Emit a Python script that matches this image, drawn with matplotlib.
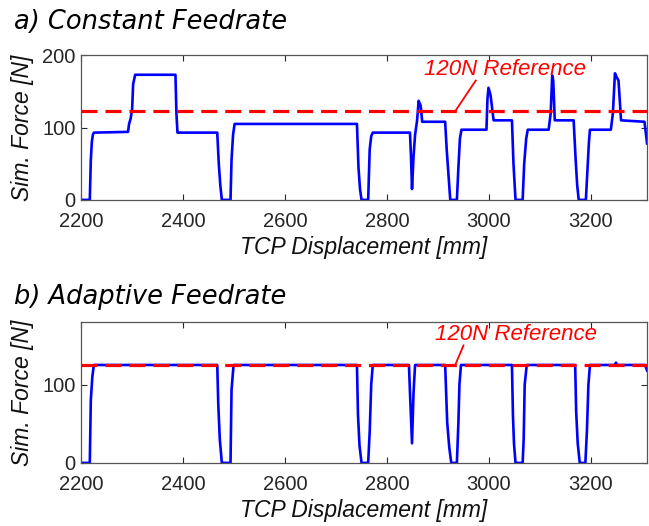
import matplotlib.pyplot as plt

# Constant feedrate trace (vertices of the force curve)
const_x = [2200, 2217, 2219, 2221, 2223, 2225, 2292, 2294, 2297, 2300, 2302, 2306, 2385, 2387, 2389,
           2467, 2470, 2473, 2476, 2493, 2495, 2498, 2501, 2741, 2744, 2747, 2750, 2763, 2766,
           2769, 2772, 2845, 2847, 2849, 2852, 2855, 2859, 2862, 2866, 2869, 2914, 2917, 2921,
           2924, 2937, 2940, 2943, 2946, 2995, 2997, 2999, 3003, 3009, 3045, 3048, 3052, 3066,
           3069, 3073, 3076, 3117, 3121, 3124, 3126, 3129, 3166, 3170, 3173, 3176, 3190, 3193,
           3196, 3198, 3239, 3243, 3247, 3250, 3254, 3259, 3305, 3310]
const_y = [0, 0, 55, 80, 90, 93, 94, 105, 112, 125, 160, 173, 173, 118, 93,
           93, 50, 20, 0, 0, 55, 90, 105, 105, 45, 15, 0, 0, 70,
           88, 93, 93, 60, 15, 60, 90, 110, 137, 130, 108, 108, 70, 30,
           0, 0, 45, 85, 97, 97, 140, 155, 145, 110, 110, 50, 0, 0,
           50, 85, 97, 97, 120, 172, 165, 110, 110, 55, 20, 0, 0, 40,
           80, 97, 97, 120, 175, 170, 165, 110, 108, 78]

# Adaptive feedrate trace
adapt_x = [2200, 2217, 2219, 2222, 2225, 2467, 2469, 2472, 2476, 2493, 2495, 2499, 2741, 2743,
           2746, 2750, 2763, 2766, 2769, 2772, 2843, 2845, 2849, 2852, 2855, 2914, 2918, 2922,
           2926, 2937, 2940, 2942, 2945, 3045, 3047, 3049, 3052, 3066, 3068, 3070, 3074, 3169,
           3171, 3174, 3178, 3189, 3192, 3195, 3198, 3247, 3249, 3251, 3306, 3310]
adapt_y = [0, 0, 80, 110, 125, 125, 75, 30, 0, 0, 93, 125, 125, 62,
           22, 0, 0, 40, 100, 125, 125, 90, 25, 90, 125, 125, 52, 20,
           0, 0, 52, 100, 125, 125, 60, 25, 0, 0, 30, 100, 125, 125,
           65, 25, 0, 0, 40, 100, 125, 125, 128, 125, 125, 118]

ref_const = 123
ref_adapt = 125.5

fig = plt.figure(figsize=(6.49, 5.26), dpi=100)
ax1 = fig.add_axes([0.125, 0.620, 0.872, 0.275])
ax2 = fig.add_axes([0.125, 0.120, 0.872, 0.268])

tick_font = 'Liberation Sans'
grey = '#262626'


def style(ax, ylim, yticks):
    ax.set_xlim(2200, 3310)
    ax.set_ylim(*ylim)
    ax.set_xticks([2200, 2400, 2600, 2800, 3000, 3200])
    ax.set_yticks(yticks)
    ax.tick_params(direction='in', top=True, right=True, length=4, width=0.8,
                   labelsize=14.5, colors=grey)
    ax.tick_params(axis='x', pad=9)
    ax.tick_params(axis='y', pad=4)
    for lab in ax.get_xticklabels() + ax.get_yticklabels():
        lab.set_fontfamily(tick_font)
    for sp in ax.spines.values():
        sp.set_color('#555555')
        sp.set_linewidth(0.9)
    ax.set_xlabel('TCP Displacement [mm]', fontsize=16.5, style='italic',
                  family=tick_font, color='#111111', labelpad=3)
    ax.set_ylabel('Sim. Force [N]', fontsize=16.5, style='italic',
                  family=tick_font, color='#111111', labelpad=6)


ax1.plot(const_x, const_y, color='#0000ff', lw=1.9, zorder=2)
ax1.axhline(ref_const, color='#ff0000', lw=2.3, ls=(0, (5, 2.5)), zorder=3)
ax1.text(3031, 180, '120N Reference', color='#ff0000', fontsize=16, style='italic',
         family=tick_font, ha='center', va='center')
ax1.plot([2974, 2934], [165, ref_const], color='#ff0000', lw=1.3)
style(ax1, (0, 200), [0, 100, 200])

ax2.plot(adapt_x, adapt_y, color='#0000ff', lw=1.9, zorder=2)
ax2.axhline(ref_adapt, color='#ff0000', lw=2.3, ls=(0, (5, 2.5)), zorder=3)
ax2.text(3052, 164, '120N Reference', color='#ff0000', fontsize=16, style='italic',
         family=tick_font, ha='center', va='center')
ax2.plot([2950, 2934], [150, ref_adapt], color='#ff0000', lw=1.3)
style(ax2, (0, 180), [0, 100])

fig.text(0.022, 0.958, 'a) Constant Feedrate', fontsize=18.5, style='italic',
         family='DejaVu Sans', color='black', va='center')
fig.text(0.022, 0.435, 'b) Adaptive Feedrate', fontsize=18.5, style='italic',
         family='DejaVu Sans', color='black', va='center')

fig.savefig('out.png', dpi=100)
